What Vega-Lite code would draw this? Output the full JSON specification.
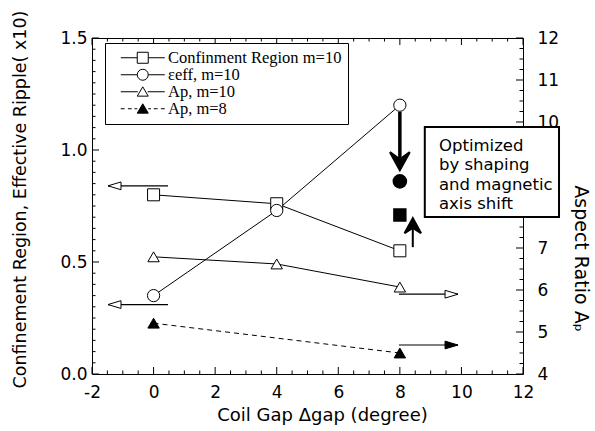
{
  "$schema": "https://vega.github.io/schema/vega-lite/v6.json",
  "width": 431,
  "height": 336,
  "autosize": {"type": "none"},
  "padding": {"left": 92, "top": 38, "right": 72, "bottom": 57},
  "background": "white",
  "config": {
    "view": {"stroke": null},
    "axis": {
      "labelFont": "DejaVu Sans", "labelFontSize": 17, "labelColor": "black",
      "titleFont": "DejaVu Sans", "titleFontSize": 18, "titleFontWeight": "normal", "titleColor": "black",
      "domainColor": "black", "grid": false, "ticks": false,
      "labelOverlap": false, "labelBound": false, "labelFlush": false
    }
  },
  "datasets": {
    "left_series": [
      {"series": "conf", "x": 0, "y": 0.80}, {"series": "conf", "x": 4, "y": 0.76}, {"series": "conf", "x": 8, "y": 0.55},
      {"series": "eps", "x": 0, "y": 0.35}, {"series": "eps", "x": 4, "y": 0.73}, {"series": "eps", "x": 8, "y": 1.20}
    ],
    "right_series": [
      {"series": "ap10", "x": 0, "y": 6.79}, {"series": "ap10", "x": 4, "y": 6.62}, {"series": "ap10", "x": 8, "y": 6.07},
      {"series": "ap8", "x": 0, "y": 5.21}, {"series": "ap8", "x": 8, "y": 4.50}
    ],
    "optimized": [{"kind": "circle", "x": 8, "y": 0.86}, {"kind": "square", "x": 8, "y": 0.71}],
    "left_arrows": [{"x": 0.47, "x2": -1.48, "y": 0.84}, {"x": 0.47, "x2": -1.48, "y": 0.31}],
    "right_arrows": [{"head": "open", "x": 7.97, "x2": 9.89, "y": 5.90}, {"head": "filled", "x": 7.97, "x2": 9.89, "y": 4.69}],
    "down_arrow": [{"x": 8, "y": 1.17, "y2": 0.95, "tip": 0.91}],
    "up_arrow": [{"x": 8.42, "y": 7.02, "y2": 7.55, "tip": 7.71}],
    "note": [{"x": 8.81, "x2": 13.17, "y": 9.883, "y2": 7.739, "tx": 9.27, "ty": 9.63, "text": "Optimized\nby shaping\nand magnetic\naxis shift"}],
    "legend_rows": [{"label": "Confinment Region m=10"}, {"label": "εeff, m=10"}, {"label": "Ap, m=10"}, {"label": "Ap, m=8"}],
    "x_major": [{"v": -2}, {"v": 0}, {"v": 2}, {"v": 4}, {"v": 6}, {"v": 8}, {"v": 10}, {"v": 12}],
    "x_minor": [{"v": -1.5}, {"v": -1}, {"v": -0.5}, {"v": 0.5}, {"v": 1}, {"v": 1.5}, {"v": 2.5}, {"v": 3}, {"v": 3.5}, {"v": 4.5}, {"v": 5}, {"v": 5.5}, {"v": 6.5}, {"v": 7}, {"v": 7.5}, {"v": 8.5}, {"v": 9}, {"v": 9.5}, {"v": 10.5}, {"v": 11}, {"v": 11.5}],
    "yl_major": [{"v": 0}, {"v": 0.5}, {"v": 1}, {"v": 1.5}],
    "yl_minor": [{"v": 0.05}, {"v": 0.1}, {"v": 0.15}, {"v": 0.2}, {"v": 0.25}, {"v": 0.3}, {"v": 0.35}, {"v": 0.4}, {"v": 0.45}, {"v": 0.55}, {"v": 0.6}, {"v": 0.65}, {"v": 0.7}, {"v": 0.75}, {"v": 0.8}, {"v": 0.85}, {"v": 0.9}, {"v": 0.95}, {"v": 1.05}, {"v": 1.1}, {"v": 1.15}, {"v": 1.2}, {"v": 1.25}, {"v": 1.3}, {"v": 1.35}, {"v": 1.4}, {"v": 1.45}],
    "yr_major": [{"v": 4}, {"v": 5}, {"v": 6}, {"v": 7}, {"v": 8}, {"v": 9}, {"v": 10}, {"v": 11}, {"v": 12}],
    "yr_minor": [{"v": 4.25}, {"v": 4.5}, {"v": 4.75}, {"v": 5.25}, {"v": 5.5}, {"v": 5.75}, {"v": 6.25}, {"v": 6.5}, {"v": 6.75}, {"v": 7.25}, {"v": 7.5}, {"v": 7.75}, {"v": 8.25}, {"v": 8.5}, {"v": 8.75}, {"v": 9.25}, {"v": 9.5}, {"v": 9.75}, {"v": 10.25}, {"v": 10.5}, {"v": 10.75}, {"v": 11.25}, {"v": 11.5}, {"v": 11.75}]
  },
  "layer": [
    {
      "layer": [
        {
          "data": {"name": "left_series"},
          "mark": {"type": "line", "color": "black", "strokeWidth": 1},
          "encoding": {
            "x": {"field": "x", "type": "quantitative", "scale": {"domain": [-2, 12], "nice": false, "zero": false},
              "axis": {"orient": "bottom", "values": [-2, 0, 2, 4, 6, 8, 10, 12], "tickCount": 100, "format": "d",
                "labelExpr": "replace(datum.label, '−', '-')",
                "labelPadding": 10, "title": "Coil Gap Δgap (degree)", "titlePadding": 6, "titleX": 230}},
            "y": {"field": "y", "type": "quantitative", "scale": {"domain": [0, 1.5], "nice": false, "zero": false},
              "axis": {"orient": "left", "values": [0, 0.5, 1, 1.5], "tickCount": 100, "format": ".1f",
                "labelPadding": 5, "title": "Confinement Region, Effective Ripple( x10)", "titleFontSize": 17.5, "titlePadding": 30, "titleY": 161}},
            "detail": {"field": "series"}
          }
        },
        {
          "data": {"name": "x_major"},
          "mark": {"type": "tick", "orient": "vertical", "size": 7, "thickness": 1, "color": "black", "opacity": 1, "yOffset": -3.5},
          "encoding": {"x": {"field": "v", "type": "quantitative"}, "y": {"datum": 0, "type": "quantitative"}}
        },
        {
          "data": {"name": "x_minor"},
          "mark": {"type": "tick", "orient": "vertical", "size": 3.5, "thickness": 1, "color": "black", "opacity": 1, "yOffset": -1.75},
          "encoding": {"x": {"field": "v", "type": "quantitative"}, "y": {"datum": 0, "type": "quantitative"}}
        },
        {
          "data": {"name": "x_major"},
          "mark": {"type": "tick", "orient": "vertical", "size": 7, "thickness": 1, "color": "black", "opacity": 1, "yOffset": 3.5},
          "encoding": {"x": {"field": "v", "type": "quantitative"}, "y": {"datum": 1.5, "type": "quantitative"}}
        },
        {
          "data": {"name": "x_minor"},
          "mark": {"type": "tick", "orient": "vertical", "size": 3.5, "thickness": 1, "color": "black", "opacity": 1, "yOffset": 1.75},
          "encoding": {"x": {"field": "v", "type": "quantitative"}, "y": {"datum": 1.5, "type": "quantitative"}}
        },
        {
          "data": {"name": "yl_major"},
          "mark": {"type": "tick", "orient": "horizontal", "size": 7, "thickness": 1, "color": "black", "opacity": 1, "xOffset": 3.5},
          "encoding": {"y": {"field": "v", "type": "quantitative"}, "x": {"datum": -2, "type": "quantitative"}}
        },
        {
          "data": {"name": "yl_minor"},
          "mark": {"type": "tick", "orient": "horizontal", "size": 3.5, "thickness": 1, "color": "black", "opacity": 1, "xOffset": 1.75},
          "encoding": {"y": {"field": "v", "type": "quantitative"}, "x": {"datum": -2, "type": "quantitative"}}
        },
        {
          "data": {"name": "left_series"},
          "transform": [{"filter": "datum.series === 'conf'"}],
          "mark": {"type": "point", "shape": "square", "size": 144, "filled": true, "fill": "white", "stroke": "black", "strokeWidth": 1, "opacity": 1},
          "encoding": {"x": {"field": "x", "type": "quantitative"}, "y": {"field": "y", "type": "quantitative"}}
        },
        {
          "data": {"name": "left_series"},
          "transform": [{"filter": "datum.series === 'eps'"}],
          "mark": {"type": "point", "shape": "circle", "size": 150, "filled": true, "fill": "white", "stroke": "black", "strokeWidth": 1, "opacity": 1},
          "encoding": {"x": {"field": "x", "type": "quantitative"}, "y": {"field": "y", "type": "quantitative"}}
        },
        {
          "data": {"name": "optimized"},
          "transform": [{"filter": "datum.kind === 'circle'"}],
          "mark": {"type": "point", "shape": "circle", "size": 160, "filled": true, "fill": "black", "stroke": "black", "opacity": 1},
          "encoding": {"x": {"field": "x", "type": "quantitative"}, "y": {"field": "y", "type": "quantitative"}}
        },
        {
          "data": {"name": "optimized"},
          "transform": [{"filter": "datum.kind === 'square'"}],
          "mark": {"type": "point", "shape": "square", "size": 130, "filled": true, "fill": "black", "stroke": "black", "opacity": 1},
          "encoding": {"x": {"field": "x", "type": "quantitative"}, "y": {"field": "y", "type": "quantitative"}}
        },
        {
          "data": {"name": "down_arrow"},
          "mark": {"type": "rule", "color": "black", "strokeWidth": 3.5},
          "encoding": {"x": {"field": "x", "type": "quantitative"}, "y": {"field": "y", "type": "quantitative"}, "y2": {"field": "y2"}}
        },
        {
          "data": {"name": "down_arrow"},
          "mark": {"type": "point", "shape": "M0,0L-1.1,-2L0,-1.2L1.1,-2Z", "size": 324, "filled": true, "fill": "black", "stroke": "black", "opacity": 1},
          "encoding": {"x": {"field": "x", "type": "quantitative"}, "y": {"field": "tip", "type": "quantitative"}}
        },
        {
          "data": {"name": "left_arrows"},
          "mark": {"type": "rule", "color": "black", "strokeWidth": 1.2},
          "encoding": {"x": {"field": "x", "type": "quantitative"}, "x2": {"field": "x2"}, "y": {"field": "y", "type": "quantitative"}}
        },
        {
          "data": {"name": "left_arrows"},
          "mark": {"type": "point", "shape": "M0,0L2,-0.6L2,0.6Z", "size": 169, "filled": true, "fill": "white", "stroke": "black", "strokeWidth": 1, "opacity": 1},
          "encoding": {"x": {"field": "x2", "type": "quantitative"}, "y": {"field": "y", "type": "quantitative"}}
        },
        {
          "data": {"name": "legend_rows"},
          "mark": {"type": "point", "filled": true, "stroke": "black", "strokeWidth": 1, "opacity": 0},
          "encoding": {
            "shape": {"field": "label", "type": "nominal",
              "scale": {"domain": ["Confinment Region m=10", "εeff, m=10", "Ap, m=10", "Ap, m=8"],
                "range": [
                  "M-4,0H-1M1,0H4M-1,-1H1V1H-1Z",
                  "M-4,0H-1M1,0H4M1,0A1,1 0 1,1 -1,0A1,1 0 1,1 1,0Z",
                  "M-4,0H-0.9M0.9,0H4M0,-0.9L1,0.8H-1Z",
                  "M-4,0H-3.3M-2.7,0H-2M-1.5,0H-1M1,0H1.5M2,0H2.7M3.3,0H4M0,-0.9L1,0.8H-1Z"
                ]},
              "legend": {"title": null, "orient": "none", "legendX": 13, "legendY": 5, "padding": 6.5,
                "strokeColor": "black", "fillColor": "white", "symbolSize": 121,
                "symbolOffset": 23, "labelOffset": 17, "labelFont": "Liberation Serif", "labelFontSize": 16.5,
                "labelColor": "black", "rowPadding": 0, "symbolStrokeColor": "black", "symbolStrokeWidth": 1, "labelLimit": 300,
                "encode": {"symbols": {"update": {"opacity": {"value": 1}, "stroke": {"value": "black"}}}}}},
            "fill": {"field": "label", "type": "nominal",
              "scale": {"domain": ["Confinment Region m=10", "εeff, m=10", "Ap, m=10", "Ap, m=8"], "range": ["white", "white", "white", "black"]},
              "legend": {"title": null, "orient": "none", "legendX": 13, "legendY": 5, "padding": 6.5,
                "strokeColor": "black", "fillColor": "white", "symbolSize": 121,
                "symbolOffset": 23, "labelOffset": 17, "labelFont": "Liberation Serif", "labelFontSize": 16.5,
                "labelColor": "black", "rowPadding": 0, "symbolStrokeColor": "black", "symbolStrokeWidth": 1, "labelLimit": 300,
                "encode": {"symbols": {"update": {"opacity": {"value": 1}, "stroke": {"value": "black"}}}}}}
          }
        }
      ]
    },
    {
      "layer": [
        {
          "data": {"name": "right_series"},
          "transform": [{"filter": "datum.series === 'ap10'"}],
          "mark": {"type": "line", "color": "black", "strokeWidth": 1},
          "encoding": {
            "x": {"field": "x", "type": "quantitative",
              "axis": {"orient": "top", "values": [-2, 0, 2, 4, 6, 8, 10, 12], "tickCount": 100, "labels": false, "title": null}},
            "y": {"field": "y", "type": "quantitative", "scale": {"domain": [4, 12], "nice": false, "zero": false},
              "axis": {"orient": "right", "values": [4, 5, 6, 7, 8, 9, 10, 11, 12], "tickCount": 100, "format": "d",
                "labelPadding": 14, "title": "Aspect Ratio Aₚ", "titleFontSize": 19, "titlePadding": 12, "titleY": 220}}
          }
        },
        {
          "data": {"name": "yr_major"},
          "mark": {"type": "tick", "orient": "horizontal", "size": 7, "thickness": 1, "color": "black", "opacity": 1, "xOffset": -3.5},
          "encoding": {"y": {"field": "v", "type": "quantitative"}, "x": {"datum": 12, "type": "quantitative"}}
        },
        {
          "data": {"name": "yr_minor"},
          "mark": {"type": "tick", "orient": "horizontal", "size": 3.5, "thickness": 1, "color": "black", "opacity": 1, "xOffset": -1.75},
          "encoding": {"y": {"field": "v", "type": "quantitative"}, "x": {"datum": 12, "type": "quantitative"}}
        },
        {
          "data": {"name": "right_series"},
          "transform": [{"filter": "datum.series === 'ap8'"}],
          "mark": {"type": "line", "color": "black", "strokeWidth": 1, "strokeDash": [5, 4]},
          "encoding": {"x": {"field": "x", "type": "quantitative"}, "y": {"field": "y", "type": "quantitative"}}
        },
        {
          "data": {"name": "right_series"},
          "transform": [{"filter": "datum.series === 'ap10'"}],
          "mark": {"type": "point", "shape": "triangle-up", "size": 130, "filled": true, "fill": "white", "stroke": "black", "strokeWidth": 1, "opacity": 1},
          "encoding": {"x": {"field": "x", "type": "quantitative"}, "y": {"field": "y", "type": "quantitative"}}
        },
        {
          "data": {"name": "right_series"},
          "transform": [{"filter": "datum.series === 'ap8'"}],
          "mark": {"type": "point", "shape": "triangle-up", "size": 130, "filled": true, "fill": "black", "stroke": "black", "strokeWidth": 1, "opacity": 1},
          "encoding": {"x": {"field": "x", "type": "quantitative"}, "y": {"field": "y", "type": "quantitative"}}
        },
        {
          "data": {"name": "right_arrows"},
          "mark": {"type": "rule", "color": "black", "strokeWidth": 1.2},
          "encoding": {"x": {"field": "x", "type": "quantitative"}, "x2": {"field": "x2"}, "y": {"field": "y", "type": "quantitative"}}
        },
        {
          "data": {"name": "right_arrows"},
          "mark": {"type": "point", "shape": "M0,0L-2,-0.6L-2,0.6Z", "size": 169, "filled": true, "stroke": "black", "strokeWidth": 1, "opacity": 1},
          "encoding": {"x": {"field": "x2", "type": "quantitative"}, "y": {"field": "y", "type": "quantitative"},
            "fill": {"condition": {"test": "datum.head === 'filled'", "value": "black"}, "value": "white"}}
        },
        {
          "data": {"name": "up_arrow"},
          "mark": {"type": "rule", "color": "black", "strokeWidth": 2},
          "encoding": {"x": {"field": "x", "type": "quantitative"}, "y": {"field": "y", "type": "quantitative"}, "y2": {"field": "y2"}}
        },
        {
          "data": {"name": "up_arrow"},
          "mark": {"type": "point", "shape": "M0,0L-1.1,2L0,1.3L1.1,2Z", "size": 225, "filled": true, "fill": "black", "stroke": "black", "opacity": 1},
          "encoding": {"x": {"field": "x", "type": "quantitative"}, "y": {"field": "tip", "type": "quantitative"}}
        },
        {
          "data": {"name": "note"},
          "mark": {"type": "rect", "fill": "white", "stroke": "black", "strokeWidth": 2},
          "encoding": {"x": {"field": "x", "type": "quantitative"}, "x2": {"field": "x2"}, "y": {"field": "y", "type": "quantitative"}, "y2": {"field": "y2"}}
        },
        {
          "data": {"name": "note"},
          "mark": {"type": "text", "align": "left", "baseline": "top", "font": "DejaVu Sans", "fontSize": 16.5, "lineHeight": 19.5, "lineBreak": "\n", "color": "black"},
          "encoding": {"x": {"field": "tx", "type": "quantitative"}, "y": {"field": "ty", "type": "quantitative"}, "text": {"field": "text"}}
        }
      ]
    }
  ],
  "resolve": {"scale": {"y": "independent"}, "axis": {"x": "independent"}}
}
